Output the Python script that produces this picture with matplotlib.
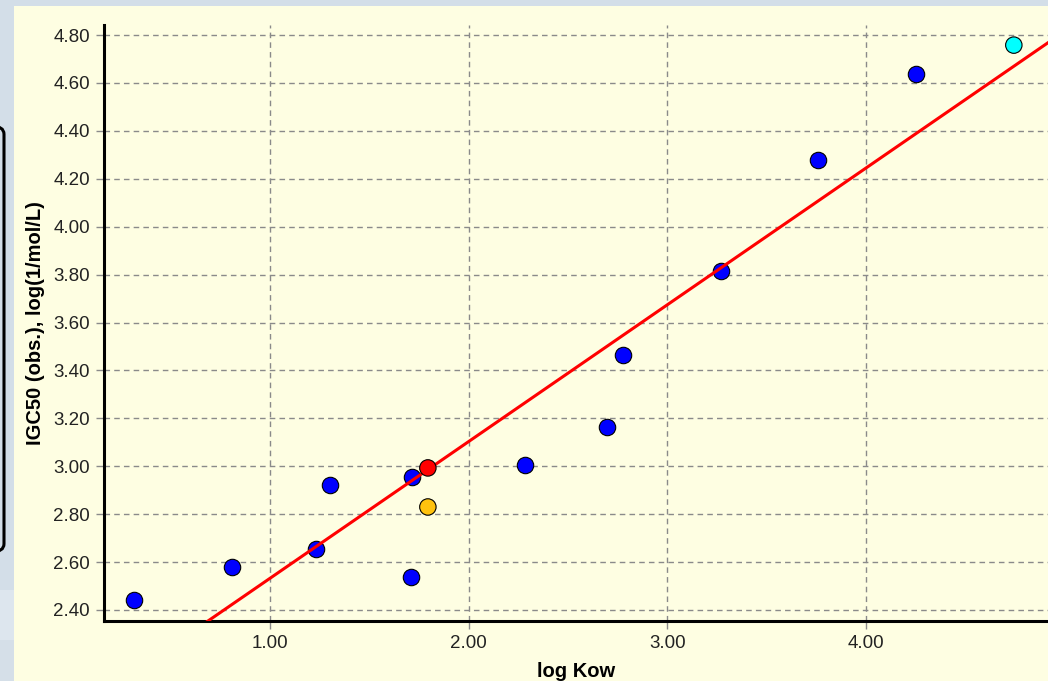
import numpy as np
import matplotlib
matplotlib.use("Agg")
import matplotlib.pyplot as plt
from matplotlib.patches import Rectangle, FancyBboxPatch

# training set points (log Kow, IGC50 obs.)
log_kow = [0.316, 0.809, 1.232, 1.302, 1.710, 1.715, 2.283, 2.696, 2.777, 3.270, 3.758, 4.251]
igc50 = [2.442, 2.579, 2.655, 2.922, 2.538, 2.955, 3.005, 3.164, 3.464, 3.815, 4.278, 4.637]

# highlighted points
hl_x = [1.795, 1.795, 4.744]
hl_y = [2.993, 2.830, 4.758]
hl_colors = ["#ff0000", "#ffc20e", "#00ffff"]

# regression line
slope = 0.571
intercept = 1.961
line_x = np.array([0.0, 5.0])

xticks = [1.0, 2.0, 3.0, 4.0]
yticks = [2.40, 2.60, 2.80, 3.00, 3.20, 3.40, 3.60, 3.80, 4.00, 4.20, 4.40, 4.60, 4.80]

plt.rcParams['font.family'] = ['Liberation Sans', 'DejaVu Sans']

W, H = 1048, 681
fig = plt.figure(figsize=(W / 100, H / 100), dpi=100, facecolor="#d3dee8")

# yellow panel behind the chart
fig.patches.append(Rectangle((14 / W, 0), 1 - 14 / W, 1 - 6 / H, transform=fig.transFigure,
                             facecolor="#fefee2", edgecolor="none", zorder=0))
# lighter bands on the left strip
fig.patches.append(Rectangle((0, 0), 14 / W, (681 - 590) / H, transform=fig.transFigure,
                             facecolor="#dde6ee", edgecolor="none", zorder=0))
fig.patches.append(Rectangle((0, 0), 14 / W, (681 - 640) / H, transform=fig.transFigure,
                             facecolor="#d5dfe8", edgecolor="none", zorder=0))
# black rounded frame cut at the left edge
fig.patches.append(FancyBboxPatch((-20 / W, (681 - 552) / H), 24 / W, (552 - 126) / H,
                                  boxstyle="round,pad=0,rounding_size=0.012",
                                  transform=fig.transFigure, facecolor="none",
                                  edgecolor="black", linewidth=2.2, zorder=1))

ax = fig.add_axes([104 / W, 1 - 621 / H, 1 - 104 / W, (621 - 25) / H])
ax.set_zorder(5)
ax.set_facecolor("none")

ax.scatter(log_kow, igc50, s=140, c="#0000ff", edgecolors="black", linewidths=0.8, zorder=3)
ax.plot(line_x, slope * line_x + intercept, color="#ff0000", linewidth=2.2, zorder=4)
ax.scatter(hl_x, hl_y, s=140, c=hl_colors, edgecolors="black", linewidths=0.8, zorder=5)

ax.set_xlim(0.165, 4.916)
ax.set_ylim(2.354, 4.842)
ax.set_xticks(xticks)
ax.set_yticks(yticks)
ax.set_xticklabels([f"{v:.2f}" for v in xticks])
ax.set_yticklabels([f"{v:.2f}" for v in yticks])

ax.grid(True, color="#8a8a8a", linestyle=(0, (4, 3)), linewidth=1)
ax.set_axisbelow(True)
ax.tick_params(direction="out", length=6, width=1, color="#8a8a8a",
               labelsize=13.5, labelcolor="#222222", pad=4)

for side in ["top", "right"]:
    ax.spines[side].set_visible(False)
for side in ["left", "bottom"]:
    ax.spines[side].set_linewidth(2.2)
    ax.spines[side].set_color("black")

ax.set_xlabel("log Kow", fontsize=14.5, fontweight="bold", labelpad=7)
ax.set_ylabel("IGC50 (obs.), log(1/mol/L)", fontsize=14.5, fontweight="bold", labelpad=6)

fig.savefig("out.png", dpi=100, facecolor=fig.get_facecolor())
